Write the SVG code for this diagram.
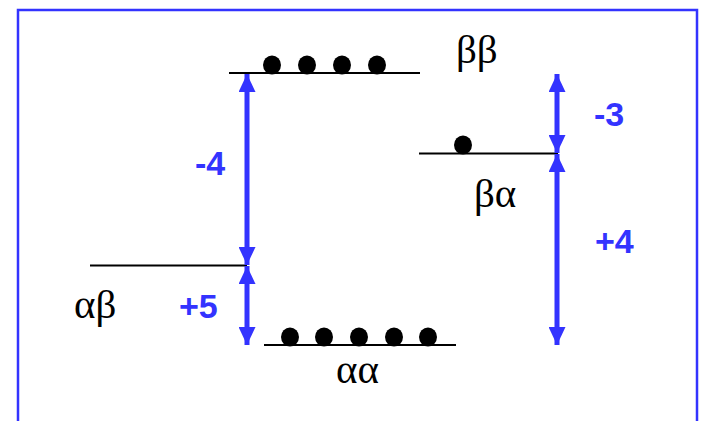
<svg xmlns="http://www.w3.org/2000/svg" width="702" height="421" viewBox="0 0 702 421">
<defs>
<marker id="ah" viewBox="0 0 18 17" refX="18" refY="8.5" markerWidth="18" markerHeight="17" markerUnits="userSpaceOnUse" orient="auto-start-reverse">
<path d="M0,0 L18,8.5 L0,17 Z" fill="#3333ff"/>
</marker>
</defs>
<style>
.lvl{stroke:#000;stroke-width:2;fill:none}
.dot{fill:#000}
.arr{stroke:#3333ff;stroke-width:5;fill:none}
.num{font-family:"Liberation Sans",Arial,sans-serif;font-weight:bold;font-size:34px;fill:#3333ff}
.gk{font-family:"Liberation Serif","Times New Roman",serif;font-size:41px;fill:#000}
</style>
<rect x="18" y="10" width="679" height="440" fill="#fff" stroke="#3333ff" stroke-width="2.5"/>
<g id="bb">
<line class="lvl" x1="229" y1="73" x2="420" y2="73"/>
<ellipse class="dot" cx="272" cy="65" rx="9" ry="9.5"/>
<ellipse class="dot" cx="307" cy="65" rx="9" ry="9.5"/>
<ellipse class="dot" cx="342" cy="65" rx="9" ry="9.5"/>
<ellipse class="dot" cx="377" cy="65" rx="9" ry="9.5"/>
<text class="gk" x="456" y="63">ββ</text>
</g>
<g id="ba">
<line class="lvl" x1="419" y1="153.5" x2="558" y2="153.5"/>
<ellipse class="dot" cx="463" cy="145" rx="9" ry="9.5"/>
<text class="gk" x="474" y="207">βα</text>
</g>
<g id="ab">
<line class="lvl" x1="90" y1="265.5" x2="247" y2="265.5"/>
<text class="gk" x="74" y="318">αβ</text>
</g>
<g id="aa">
<line class="lvl" x1="264" y1="345" x2="456" y2="345"/>
<ellipse class="dot" cx="290" cy="337" rx="9" ry="9.5"/>
<ellipse class="dot" cx="324" cy="337" rx="9" ry="9.5"/>
<ellipse class="dot" cx="359" cy="337" rx="9" ry="9.5"/>
<ellipse class="dot" cx="394" cy="337" rx="9" ry="9.5"/>
<ellipse class="dot" cx="428" cy="337" rx="9" ry="9.5"/>
<text class="gk" x="336" y="383">αα</text>
</g>
<g id="connectors">
<line class="arr" x1="247" y1="74" x2="247" y2="265" marker-start="url(#ah)" marker-end="url(#ah)"/>
<line class="arr" x1="247" y1="266" x2="247" y2="345" marker-start="url(#ah)" marker-end="url(#ah)"/>
<line class="arr" x1="557" y1="74" x2="557" y2="153" marker-start="url(#ah)" marker-end="url(#ah)"/>
<line class="arr" x1="557" y1="154" x2="557" y2="345" marker-start="url(#ah)" marker-end="url(#ah)"/>
<text class="num" x="195" y="175">-4</text>
<text class="num" x="179" y="318">+5</text>
<text class="num" x="594" y="126">-3</text>
<text class="num" x="595" y="253">+4</text>
</g>
</svg>
